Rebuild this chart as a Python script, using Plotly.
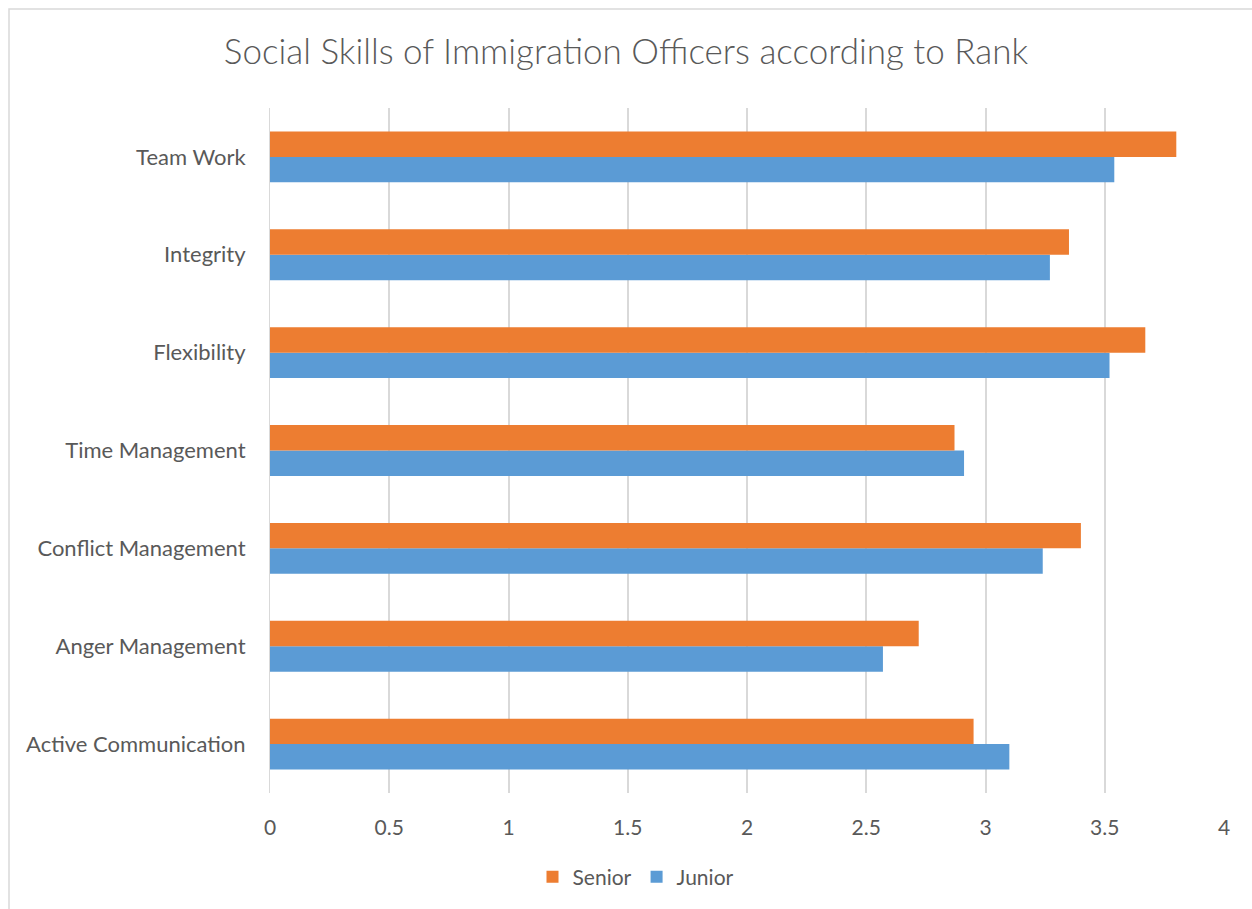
import plotly.graph_objects as go

categories = ["Active Communication", "Anger Management", "Conflict Management",
              "Time Management", "Flexibility", "Integrity", "Team Work"]
senior = [2.95, 2.72, 3.40, 2.87, 3.67, 3.35, 3.80]
junior = [3.10, 2.57, 3.24, 2.91, 3.52, 3.27, 3.54]
x_ticks = [0, 0.5, 1, 1.5, 2, 2.5, 3, 3.5, 4]
x_tick_labels = ["0", "0.5", "1", "1.5", "2", "2.5", "3", "3.5", "4"]

FONT = "Lato"
GRAY = "#595959"

fig = go.Figure()
fig.add_trace(go.Bar(y=categories, x=junior, name="Junior", orientation="h",
                     marker=dict(color="#5B9BD5", line=dict(width=0))))
fig.add_trace(go.Bar(y=categories, x=senior, name="Senior", orientation="h",
                     marker=dict(color="#ED7D31", line=dict(width=0))))

L, R, T, B = 270, 1224, 108, 793
W, H = 1252, 909
pw, ph = R - L, B - T

fig.update_layout(
    width=W, height=H,
    margin=dict(l=L, r=W - R, t=T, b=H - B, pad=0),
    paper_bgcolor="white", plot_bgcolor="white",
    barmode="group", bargap=0.48, bargroupgap=0,
    font=dict(family=FONT, color=GRAY, size=21),
    title=dict(text="Social Skills of Immigration Officers according to Rank",
               x=0.5, xanchor="center", y=1 - 52 / H, yanchor="middle",
               font=dict(family=FONT, size=35, color=GRAY, weight=300)),
    legend=dict(orientation="h", x=(636 - L) / pw, xanchor="center",
                y=(B - 877) / ph, yanchor="middle", traceorder="reversed",
                font=dict(size=21, color=GRAY), itemwidth=30),
    xaxis=dict(range=[0, 4], tickvals=x_ticks, ticktext=x_tick_labels,
               showgrid=True, gridcolor="#D9D9D9", gridwidth=2,
               zeroline=False, showline=False, ticks="",
               tickfont=dict(size=21, color=GRAY), ticklabelstandoff=20),
    yaxis=dict(type="category", showgrid=False, zeroline=False,
               showline=True, linecolor="#D9D9D9", linewidth=1, ticks="",
               tickfont=dict(size=22, color=GRAY), ticklabelstandoff=19),
    shapes=[dict(type="rect", xref="paper", yref="paper",
                 x0=(9 - L) / pw, x1=(1260 - L) / pw,
                 y0=(B - 920) / ph, y1=(B - 9) / ph,
                 line=dict(color="#D9D9D9", width=1.5), layer="below")],
)

fig.write_html("out.html")
